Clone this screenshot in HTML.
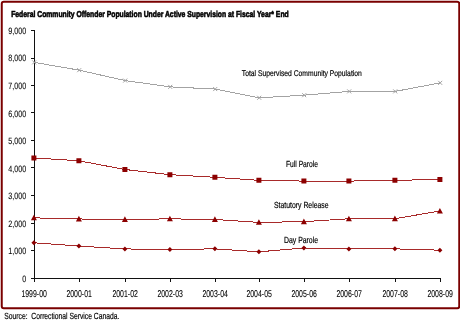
<!DOCTYPE html><html><head><meta charset="utf-8"><style>html,body{margin:0;padding:0;background:#fff;width:460px;height:323px;overflow:hidden}svg{display:block;will-change:transform;text-rendering:geometricPrecision}text{font-family:"Liberation Sans",sans-serif;fill:#000;stroke:#000;stroke-width:0.18}</style></head><body>
<svg width="460" height="323" viewBox="0 0 460 323">
<rect x="0" y="0" width="460" height="323" fill="#fff"/>
<rect x="1.75" y="1.75" width="457.5" height="306.5" rx="2" ry="2" fill="none" stroke="#7a0000" stroke-width="2"/>
<text x="11.2" y="17" font-size="8.7" font-weight="bold" style="stroke-width:0.55" textLength="277.5" lengthAdjust="spacingAndGlyphs">Federal Community Offender Population Under Active Supervision at Fiscal Year* End</text>
<path d="M34.5 30 V278.5 H441" stroke="#111" stroke-width="1" fill="none" shape-rendering="crispEdges"/>
<path d="M31 278.5 H34 M31 250.5 H34 M31 223.5 H34 M31 195.5 H34 M31 167.5 H34 M31 140.5 H34 M31 112.5 H34 M31 85.5 H34 M31 58.5 H34 M31 30.5 H34 M34.5 278 V282 M79.5 278 V282 M125.5 278 V282 M170.5 278 V282 M215.5 278 V282 M259.5 278 V282 M304.5 278 V282 M349.5 278 V282 M395.5 278 V282 M440.5 278 V282" stroke="#111" stroke-width="1" fill="none" shape-rendering="crispEdges"/>
<text x="26.2" y="281.8" font-size="9.2" text-anchor="end" textLength="4" lengthAdjust="spacingAndGlyphs" style="stroke-width:0.08">0</text>
<text x="26.2" y="254.2" font-size="9.2" text-anchor="end" textLength="18" lengthAdjust="spacingAndGlyphs" style="stroke-width:0.08">1,000</text>
<text x="26.2" y="226.7" font-size="9.2" text-anchor="end" textLength="18" lengthAdjust="spacingAndGlyphs" style="stroke-width:0.08">2,000</text>
<text x="26.2" y="199.1" font-size="9.2" text-anchor="end" textLength="18" lengthAdjust="spacingAndGlyphs" style="stroke-width:0.08">3,000</text>
<text x="26.2" y="171.6" font-size="9.2" text-anchor="end" textLength="18" lengthAdjust="spacingAndGlyphs" style="stroke-width:0.08">4,000</text>
<text x="26.2" y="144.0" font-size="9.2" text-anchor="end" textLength="18" lengthAdjust="spacingAndGlyphs" style="stroke-width:0.08">5,000</text>
<text x="26.2" y="116.5" font-size="9.2" text-anchor="end" textLength="18" lengthAdjust="spacingAndGlyphs" style="stroke-width:0.08">6,000</text>
<text x="26.2" y="88.9" font-size="9.2" text-anchor="end" textLength="18" lengthAdjust="spacingAndGlyphs" style="stroke-width:0.08">7,000</text>
<text x="26.2" y="61.4" font-size="9.2" text-anchor="end" textLength="18" lengthAdjust="spacingAndGlyphs" style="stroke-width:0.08">8,000</text>
<text x="26.2" y="33.8" font-size="9.2" text-anchor="end" textLength="18" lengthAdjust="spacingAndGlyphs" style="stroke-width:0.08">9,000</text>
<text x="21.4" y="296.8" font-size="9.9" textLength="25.5" lengthAdjust="spacingAndGlyphs" style="stroke-width:0.08">1999-00</text>
<text x="66.4" y="296.8" font-size="9.9" textLength="25.5" lengthAdjust="spacingAndGlyphs" style="stroke-width:0.08">2000-01</text>
<text x="112.4" y="296.8" font-size="9.9" textLength="25.5" lengthAdjust="spacingAndGlyphs" style="stroke-width:0.08">2001-02</text>
<text x="157.4" y="296.8" font-size="9.9" textLength="25.5" lengthAdjust="spacingAndGlyphs" style="stroke-width:0.08">2002-03</text>
<text x="202.4" y="296.8" font-size="9.9" textLength="25.5" lengthAdjust="spacingAndGlyphs" style="stroke-width:0.08">2003-04</text>
<text x="246.4" y="296.8" font-size="9.9" textLength="25.5" lengthAdjust="spacingAndGlyphs" style="stroke-width:0.08">2004-05</text>
<text x="291.4" y="296.8" font-size="9.9" textLength="25.5" lengthAdjust="spacingAndGlyphs" style="stroke-width:0.08">2005-06</text>
<text x="336.4" y="296.8" font-size="9.9" textLength="25.5" lengthAdjust="spacingAndGlyphs" style="stroke-width:0.08">2006-07</text>
<text x="382.4" y="296.8" font-size="9.9" textLength="25.5" lengthAdjust="spacingAndGlyphs" style="stroke-width:0.08">2007-08</text>
<text x="427.4" y="296.8" font-size="9.9" textLength="25.5" lengthAdjust="spacingAndGlyphs" style="stroke-width:0.08">2008-09</text>
<polyline points="34.20,62.37 79.20,70.17 125.20,80.58 170.20,86.87 215.20,89.07 259.20,97.78 304.20,95.19 349.20,91.39 395.20,91.39 440.20,82.87" fill="none" stroke="#a3a3a3" stroke-width="1" shape-rendering="crispEdges"/>
<polyline points="33.90,157.96 78.90,160.77 124.90,169.48 169.90,174.66 214.90,177.28 258.90,180.36 303.90,181.08 348.90,181.08 394.90,180.36 439.90,179.45" fill="none" stroke="#a82a2a" stroke-width="1" shape-rendering="crispEdges"/>
<polyline points="33.90,217.87 78.90,218.97 124.90,219.46 169.90,218.86 214.90,219.46 258.90,222.36 303.90,221.67 348.90,218.75 394.90,218.66 439.90,211.06" fill="none" stroke="#a82a2a" stroke-width="1" shape-rendering="crispEdges"/>
<polyline points="33.90,242.75 78.90,246.05 124.90,248.95 169.90,249.44 214.90,248.87 258.90,251.84 303.90,247.96 348.90,248.95 394.90,248.87 439.90,250.16" fill="none" stroke="#a82a2a" stroke-width="1" shape-rendering="crispEdges"/>
<path d="M32.20 60.37 L36.20 64.37 M32.20 64.37 L36.20 60.37 M77.20 68.17 L81.20 72.17 M77.20 72.17 L81.20 68.17 M123.20 78.58 L127.20 82.58 M123.20 82.58 L127.20 78.58 M168.20 84.87 L172.20 88.87 M168.20 88.87 L172.20 84.87 M213.20 87.07 L217.20 91.07 M213.20 91.07 L217.20 87.07 M257.20 95.78 L261.20 99.78 M257.20 99.78 L261.20 95.78 M302.20 93.19 L306.20 97.19 M302.20 97.19 L306.20 93.19 M347.20 89.39 L351.20 93.39 M347.20 93.39 L351.20 89.39 M393.20 89.39 L397.20 93.39 M393.20 93.39 L397.20 89.39 M438.20 80.87 L442.20 84.87 M438.20 84.87 L442.20 80.87" stroke="#a3a3a3" stroke-width="1" fill="none"/>
<path d="M31.40 155.46 h5 v5 h-5 Z M76.40 158.27 h5 v5 h-5 Z M122.40 166.98 h5 v5 h-5 Z M167.40 172.16 h5 v5 h-5 Z M212.40 174.78 h5 v5 h-5 Z M256.40 177.86 h5 v5 h-5 Z M301.40 178.58 h5 v5 h-5 Z M346.40 178.58 h5 v5 h-5 Z M392.40 177.86 h5 v5 h-5 Z M437.40 176.95 h5 v5 h-5 Z" fill="#8c0000"/>
<path d="M33.90 214.77 L36.90 220.37 L30.90 220.37 Z M78.90 215.87 L81.90 221.47 L75.90 221.47 Z M124.90 216.36 L127.90 221.96 L121.90 221.96 Z M169.90 215.76 L172.90 221.36 L166.90 221.36 Z M214.90 216.36 L217.90 221.96 L211.90 221.96 Z M258.90 219.26 L261.90 224.86 L255.90 224.86 Z M303.90 218.57 L306.90 224.17 L300.90 224.17 Z M348.90 215.65 L351.90 221.25 L345.90 221.25 Z M394.90 215.56 L397.90 221.16 L391.90 221.16 Z M439.90 207.96 L442.90 213.56 L436.90 213.56 Z" fill="#8c0000"/>
<path d="M33.90 240.25 L36.40 242.75 L33.90 245.25 L31.40 242.75 Z M78.90 243.55 L81.40 246.05 L78.90 248.55 L76.40 246.05 Z M124.90 246.45 L127.40 248.95 L124.90 251.45 L122.40 248.95 Z M169.90 246.94 L172.40 249.44 L169.90 251.94 L167.40 249.44 Z M214.90 246.37 L217.40 248.87 L214.90 251.37 L212.40 248.87 Z M258.90 249.34 L261.40 251.84 L258.90 254.34 L256.40 251.84 Z M303.90 245.46 L306.40 247.96 L303.90 250.46 L301.40 247.96 Z M348.90 246.45 L351.40 248.95 L348.90 251.45 L346.40 248.95 Z M394.90 246.37 L397.40 248.87 L394.90 251.37 L392.40 248.87 Z M439.90 247.66 L442.40 250.16 L439.90 252.66 L437.40 250.16 Z" fill="#8c0000"/>
<text x="241.8" y="76" font-size="8.3" textLength="120" lengthAdjust="spacingAndGlyphs">Total Supervised Community Population</text>
<text x="286" y="166.8" font-size="8.8" textLength="32" lengthAdjust="spacingAndGlyphs">Full Parole</text>
<text x="274" y="207.7" font-size="8.8" textLength="54.6" lengthAdjust="spacingAndGlyphs">Statutory Release</text>
<text x="284" y="242.5" font-size="8.8" textLength="34" lengthAdjust="spacingAndGlyphs">Day Parole</text>
<text x="4.3" y="318.8" font-size="9" textLength="115" lengthAdjust="spacingAndGlyphs">Source:&#160; Correctional Service Canada.</text>
</svg></body></html>
